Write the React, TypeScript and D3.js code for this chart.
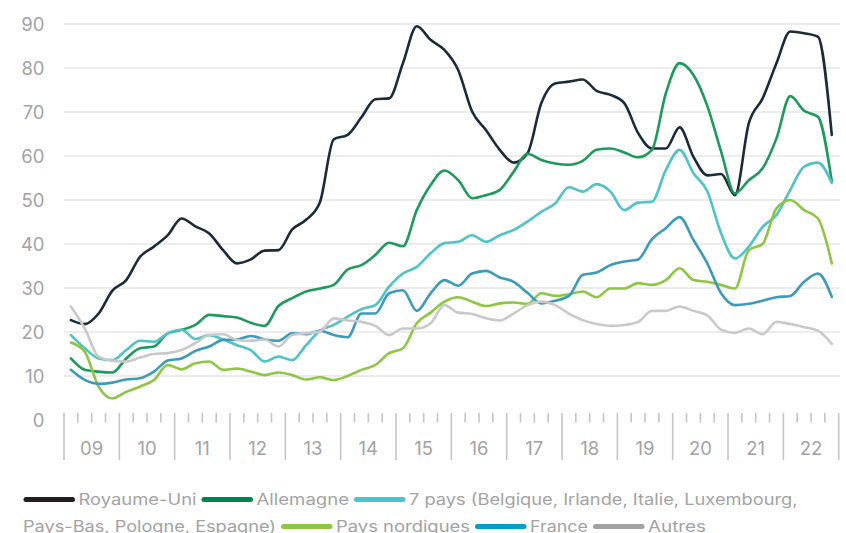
import React from "react";
import * as d3 from "d3";

// Quarterly values, Q1 2009 .. Q4 2022 (56 quarters)
const royaumeUni = [22.7, 21.8, 24.2, 29.4, 31.8, 37.1, 39.4, 42.0, 45.8, 44.0, 42.4, 38.6, 35.6, 36.5, 38.5, 38.6, 43.3, 45.5, 49.5, 63.8, 64.8, 68.8, 72.9, 73.1, 81.1, 89.5, 86.4, 84.1, 79.5, 70.1, 65.9, 61.4, 58.5, 60.6, 72.0, 76.5, 76.9, 77.4, 74.8, 73.9, 72.0, 65.2, 61.7, 61.7, 66.5, 59.8, 55.6, 55.9, 51.1, 67.4, 73.1, 81.1, 88.3, 87.9, 87.1, 64.8];
const allemagne = [14.0, 11.4, 11.0, 10.8, 14.0, 16.3, 16.7, 19.7, 20.5, 21.6, 23.9, 23.6, 23.3, 22.1, 21.4, 25.9, 27.7, 29.2, 29.9, 30.7, 34.2, 35.2, 37.5, 40.3, 39.5, 47.7, 53.4, 56.7, 54.5, 50.4, 51.1, 52.3, 56.4, 60.5, 59.1, 58.3, 58.0, 58.9, 61.4, 61.7, 60.8, 59.7, 61.4, 74.2, 81.1, 78.4, 71.4, 61.0, 51.5, 54.5, 57.2, 64.0, 73.6, 70.3, 68.9, 54.2];
const septPays = [19.3, 16.3, 14.0, 13.6, 15.9, 18.0, 17.8, 19.7, 20.5, 18.4, 19.3, 18.3, 17.0, 15.9, 13.3, 14.4, 13.6, 17.0, 20.3, 21.6, 23.5, 25.2, 26.1, 30.3, 33.3, 34.8, 37.9, 40.2, 40.5, 42.0, 40.5, 42.0, 43.2, 45.1, 47.3, 49.2, 52.9, 51.9, 53.6, 51.9, 47.7, 49.4, 49.6, 56.8, 61.4, 56.1, 52.0, 42.4, 36.7, 39.4, 43.9, 46.6, 52.3, 57.6, 58.5, 53.9];
const paysNordiques = [17.6, 15.5, 7.6, 4.9, 6.4, 7.6, 9.1, 12.5, 11.5, 12.9, 13.3, 11.4, 11.7, 11.0, 10.2, 10.8, 10.2, 9.2, 9.7, 9.1, 10.0, 11.4, 12.5, 15.2, 16.3, 22.0, 24.4, 26.9, 27.9, 26.9, 25.9, 26.5, 26.7, 26.4, 28.8, 28.2, 28.6, 29.2, 27.9, 29.9, 29.9, 31.1, 30.7, 31.8, 34.5, 31.8, 31.4, 30.7, 29.9, 38.6, 40.0, 48.1, 50.0, 47.7, 45.8, 35.6];
const france = [11.4, 9.1, 8.2, 8.5, 9.2, 9.5, 11.0, 13.5, 14.0, 15.7, 16.7, 18.2, 18.3, 19.1, 18.3, 18.0, 19.7, 19.5, 20.3, 19.3, 18.8, 24.2, 24.2, 28.8, 29.5, 24.8, 28.8, 31.8, 30.5, 33.3, 33.9, 32.4, 31.4, 28.9, 26.5, 27.1, 28.2, 33.0, 33.5, 35.2, 36.0, 36.5, 41.1, 43.6, 46.1, 40.9, 35.6, 28.8, 26.1, 26.4, 27.1, 27.9, 28.2, 31.4, 33.3, 28.0];
const autres = [25.8, 20.8, 14.4, 13.5, 13.3, 14.2, 15.0, 15.2, 15.9, 17.5, 19.3, 19.5, 18.2, 18.0, 18.3, 16.7, 19.3, 19.7, 20.1, 23.1, 22.6, 22.3, 21.4, 19.3, 20.8, 20.8, 22.0, 26.1, 24.4, 24.1, 23.1, 22.6, 24.2, 26.1, 26.9, 26.1, 24.2, 22.7, 21.8, 21.4, 21.6, 22.3, 24.8, 24.8, 25.8, 24.8, 23.8, 20.5, 19.8, 20.8, 19.5, 22.3, 21.8, 21.1, 20.3, 17.3];

const yearLabels = ["09", "10", "11", "12", "13", "14", "15", "16", "17", "18", "19", "20", "21", "22"];
const yTicks = [0, 10, 20, 30, 40, 50, 60, 70, 80, 90];

const seriesNames = ["Royaume-Uni", "Allemagne", "7 pays (Belgique, Irlande, Italie, Luxembourg, Pays-Bas, Pologne, Espagne)", "Pays nordiques", "France", "Autres"];
const seriesValues = [royaumeUni, allemagne, septPays, paysNordiques, france, autres];
const lineColors = ["#1b2b39", "#1e9a5d", "#4fc3c6", "#8dc641", "#3c9bb9", "#c9c9c9"];
const swatchColors = ["#231f20", "#00844c", "#4cc4d0", "#8dc63f", "#00a0c6", "#a2a2a2"];

const W = 846;
const H = 533;
const FONT = "Inter, 'Noto Sans', Arial, sans-serif";
const TEXT = "#a3a3a3";

// legend flow layout (swatch -> text pieces), widths measured from reference
type Piece = { kind: "swatch"; color: string } | { kind: "text"; text: string; len: number };
const legendRows: Piece[][] = [
  [
    { kind: "swatch", color: swatchColors[0] },
    { kind: "text", text: seriesNames[0], len: 118 },
    { kind: "swatch", color: swatchColors[1] },
    { kind: "text", text: seriesNames[1], len: 92.5 },
    { kind: "swatch", color: swatchColors[2] },
    { kind: "text", text: "7 pays (Belgique, Irlande, Italie, Luxembourg,", len: 388.5 },
  ],
  [
    { kind: "text", text: "Pays-Bas, Pologne, Espagne)", len: 253 },
    { kind: "swatch", color: swatchColors[3] },
    { kind: "text", text: seriesNames[3], len: 134 },
    { kind: "swatch", color: swatchColors[4] },
    { kind: "text", text: seriesNames[4], len: 58 },
    { kind: "swatch", color: swatchColors[5] },
    { kind: "text", text: seriesNames[5], len: 58 },
  ],
];
const legendStartX = [23.5, 23];
const legendBaseline = [504.5, 531.5];

export default function App() {
  const x = d3.scaleLinear().domain([0, yearLabels.length]).range([64, 838.7]);
  const y = d3.scaleLinear().domain([0, 90]).range([420, 24]);

  const line = d3
    .line<number>()
    .x((_, i) => x((i + 0.5) / 4))
    .y((v) => y(v))
    .curve(d3.curveMonotoneX);

  const quarterTicks = d3.range(0, yearLabels.length * 4 + 1);

  const legendEls: React.ReactNode[] = [];
  legendRows.forEach((row, r) => {
    let cx = legendStartX[r];
    const base = legendBaseline[r];
    row.forEach((p, k) => {
      if (p.kind === "swatch") {
        legendEls.push(
          <line key={`s${r}-${k}`} x1={cx + 2.5} x2={cx + 49} y1={base - 5} y2={base - 5} stroke={p.color} strokeWidth={5} strokeLinecap="round" />
        );
        cx += 49.5 + 5.5;
      } else {
        legendEls.push(
          <text key={`t${r}-${k}`} x={cx} y={base} fill={TEXT} fontSize={15.5} fontFamily={FONT} textLength={p.len} lengthAdjust="spacingAndGlyphs">
            {p.text}
          </text>
        );
        cx += p.len + 5;
      }
    });
  });

  return (
    <div style={{ position: "absolute", left: 0, top: 0 }}>
      <svg width={W} height={H} viewBox={`0 0 ${W} ${H}`} style={{ display: "block", background: "#fff" }}>
        {yTicks.filter((t) => t > 0).map((t) => (
          <line key={`g${t}`} x1={64} x2={839.5} y1={y(t)} y2={y(t)} stroke="#e6e6e6" strokeWidth={1.5} />
        ))}
        {yTicks.map((t) => (
          <text key={`yl${t}`} x={44.5} y={y(t)} dy="0.36em" textAnchor="end" fill={TEXT} fontSize={18.5} fontFamily={FONT}>
            {t}
          </text>
        ))}
        {quarterTicks.map((q) => {
          const major = q % 4 === 0;
          return (
            <line key={`q${q}`} x1={x(q / 4)} x2={x(q / 4)} y1={413} y2={major ? 460 : 422.5} stroke="#c6c6c6" strokeWidth={1.6} />
          );
        })}
        {yearLabels.map((lab, i) => (
          <text key={`xl${lab}`} x={x(i + 0.5)} y={455} textAnchor="middle" fill={TEXT} fontSize={18.5} fontFamily={FONT}>
            {lab}
          </text>
        ))}
        {seriesValues.map((vals, s) => (
          <path key={`l${s}`} d={line(vals) || ""} fill="none" stroke={lineColors[s]} strokeWidth={2.6} strokeLinejoin="round" strokeLinecap="round" />
        ))}
        {legendEls}
      </svg>
    </div>
  );
}
